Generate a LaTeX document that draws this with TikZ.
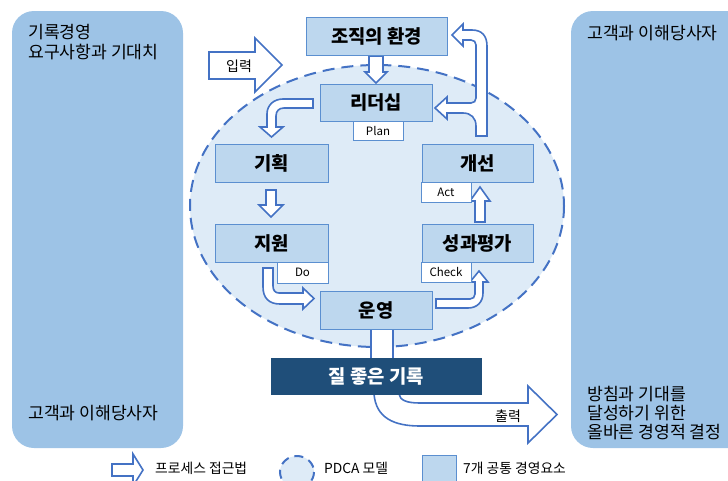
\documentclass[tikz,border=0pt]{standalone}
\usepackage{fontspec}
\usepackage{xcolor}
\usepackage{tikz}
\usetikzlibrary{arrows, arrows.meta}
\newfontfamily\krfont{Noto Sans CJK KR}
\definecolor{panelblue}{HTML}{9DC3E6}
\definecolor{boxblue}{HTML}{BDD7EE}
\definecolor{boxline}{HTML}{5B8FD0}
\definecolor{arrowline}{HTML}{4472C4}
\definecolor{ovalfill}{HTML}{DEEBF7}
\definecolor{darkbox}{HTML}{1F4E79}
\tikzset{
	element/.style={draw=boxline, fill=boxblue, line width=1pt, minimum width=112pt, minimum height=38pt, inner sep=0pt, font=\krfont\bfseries\fontsize{18.8}{20}\selectfont},
	tagbox/.style={draw=boxline, fill=white, line width=1pt, minimum width=50pt, minimum height=20pt, inner sep=0pt, font=\krfont\fontsize{11.5}{12}\selectfont},
	blockarrow/.style={draw=arrowline, fill=white, line width=1.6pt, line join=miter},
	pdca/.style={draw=arrowline, fill=ovalfill, line width=2pt, dash pattern=on 12pt off 7pt},
	panel/.style={fill=panelblue, rounded corners=22pt},
	paneltext/.style={font=\krfont\fontsize{17.2}{20}\selectfont, align=left, inner sep=0pt, anchor=west},
	legendtext/.style={font=\krfont\fontsize{13.8}{15}\selectfont, anchor=west, inner sep=0pt},
}

\begin{document}
\begin{tikzpicture}[x=1pt, y=-1pt]
			\useasboundingbox (0,0) rectangle (728,480);
			\clip (0,0) rectangle (728,480);
			% side panels
			\fill[panel] (12,11) rectangle (183,448);
			\fill[panel] (571,11) rectangle (770,448);
			\node[paneltext] (lefthead) at (28,42) {기록경영\\요구사항과 기대치};
			\node[paneltext] (leftfoot) at (28,413) {고객과 이해당사자};
			\node[paneltext] (righthead) at (587,33) {고객과 이해당사자};
			\node[paneltext, font=\krfont\fontsize{17.2}{19}\selectfont] (rightfoot) at (587,413) {방침과 기대를\\달성하기 위한\\올바른 경영적 결정};
			% PDCA oval
			\draw[pdca] (377,206) ellipse (187 and 141);
			% block arrows
			\draw[blockarrow] (209,52) -- (255,52) -- (255,38) -- (282,65) -- (255,92) -- (255,79) -- (209,79) -- cycle;%input
			\node[font=\krfont\fontsize{14}{15}\selectfont, inner sep=0pt] (inlabel) at (239,66) {입력};
			\draw[blockarrow] (369,56) -- (383,56) -- (383,72) -- (387,72) -- (376,83) -- (365,72) -- (369,72) -- cycle;
			\draw[blockarrow] (313,99) -- (283,99) .. controls (274,99) and (267,105) .. (267,114) -- (267,127) -- (260,127) -- (271.5,137) -- (283,127) -- (276,127) -- (276,116) .. controls (276,111) and (279,108) .. (284,108) -- (313,108) -- cycle;
			\draw[blockarrow] (266,190) -- (276,190) -- (276,205) -- (283,205) -- (271,217) -- (259,205) -- (266,205) -- cycle;
			\draw[blockarrow] (263,268) -- (273,268) -- (273,286) .. controls (273,290) and (275,293) .. (279,293) -- (303,293) -- (303,288) -- (314,298.5) -- (303,309) -- (303,304) -- (280,304) .. controls (269,304) and (263,298) .. (263,287) -- cycle;
			\draw[blockarrow] (436,308) -- (468,308) .. controls (477,308) and (483,302) .. (483,293) -- (483,282) -- (488,282) -- (479,271) -- (470,282) -- (475,282) -- (475,294) .. controls (475,297) and (473,299) .. (470,299) -- (436,299) -- cycle;
			\draw[blockarrow] (475,222) -- (485,222) -- (485,201) -- (490,201) -- (480,187) -- (470,201) -- (475,201) -- cycle;
			\draw[blockarrow] (476,136) -- (487,136) -- (487,46) .. controls (487,36) and (482,30) .. (472,30) -- (463,30) -- (463,24) -- (452,35) -- (463,46) -- (463,40) -- (471,40) .. controls (474,40) and (476,42) .. (476,45) -- (476,98) .. controls (476,101) and (474,103) .. (471,103) -- (447,103) -- (447,97) -- (435,108) -- (447,119) -- (447,113) -- (463,113) .. controls (471,113) and (476,118) .. (476,126) -- cycle;%split
			\draw[blockarrow] (371,326) rectangle (393,360);
			\draw[blockarrow] (374,394) .. controls (376,418) and (394,426) .. (420,426) -- (528,426) -- (528,443) -- (557,414.5) -- (528,386) -- (528,403) -- (420,403) .. controls (406,403) and (400,400) .. (399,394) -- cycle;%output
			\node[font=\krfont\fontsize{14}{15}\selectfont, inner sep=0pt] (outlabel) at (508,416) {출력};
			% elements
			\node[element, minimum width=141pt] (nodeenv) at (376.5,36) {조직의 환경};
			\node[element, minimum height=37pt] (nodelead) at (376,102.5) {리더십};
			\node[tagbox, minimum height=19pt] (nodeplan) at (378,130.5) {Plan};
			\node[element, minimum width=113pt] (nodeplanning) at (271.5,163) {기획};
			\node[element, minimum width=113pt] (nodesupport) at (271.5,243) {지원};
			\node[tagbox, minimum width=51pt, minimum height=21pt] (nodedo) at (302.5,272.5) {Do};
			\node[element] (nodeop) at (376,310) {운영};
			\node[element, minimum width=111pt] (nodeimpr) at (477.5,163) {개선};
			\node[tagbox] (nodeact) at (446,192) {Act};
			\node[element, minimum width=111pt] (nodeeval) at (477.5,243) {성과평가};
			\node[tagbox] (nodecheck) at (446,272) {Check};
			\node[element, draw=none, fill=darkbox, text=white, minimum width=211pt, minimum height=37pt] (nodeout) at (376.5,376.5) {질 좋은 기록};
			% legend
			\draw[blockarrow] (112,464) -- (133,464) -- (133,454) -- (143,470) -- (133,486) -- (133,476) -- (112,476) -- cycle;
			\node[legendtext] (legarrow) at (155,468) {프로세스 접근법};
			\draw[pdca, dash pattern=on 9pt off 6pt] (297,472) ellipse (17 and 16);
			\node[legendtext] (legpdca) at (324,468) {PDCA 모델};
			\draw[draw=boxline, fill=boxblue, line width=1pt] (422,455) rectangle (456,492);
			\node[legendtext] (legelem) at (463,468) {7개 공통 경영요소};
		\end{tikzpicture}
\end{document}
